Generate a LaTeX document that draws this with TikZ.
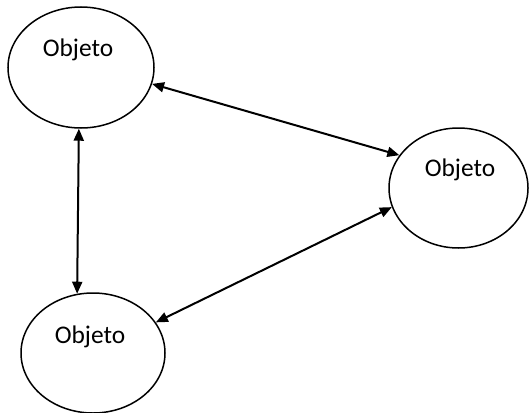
\documentclass[tikz,border=0pt]{standalone}
\usepackage{fontspec}
\setmainfont{Carlito}
\usetikzlibrary{shapes.geometric,arrows.meta}
\begin{document}
\begin{tikzpicture}[x=0.5pt,y=-0.5pt,
  obj/.style={draw,ellipse,line width=0.75pt,inner sep=0pt},
  lbl/.style={font=\fontsize{12.7}{15}\selectfont,inner sep=0pt},
  link/.style={line width=1pt,{Triangle[length=6pt,width=5pt]}-{Triangle[length=6pt,width=5pt]}}]
\useasboundingbox (0,0) rectangle (529,412);
\clip (0,0) rectangle (529,412);
\node[obj,minimum width=73pt,minimum height=60.5pt] (e1) at (81,67.5) {};
\node[obj,minimum width=69.5pt,minimum height=60pt] (e2) at (458.5,188) {};
\node[obj,minimum width=72pt,minimum height=60pt] (e3) at (93,353) {};
\node[lbl] (t1) at (78,50) {Objeto};
\node[lbl] (t2) at (460,170) {Objeto};
\node[lbl] (t3) at (90,337) {Objeto};
\draw[link] (e1.-13.5) -- (e2.151);
\draw[link] (e1.-92.5) -- (e3.105.3);
\draw[link] (e3.26.6) -- (e2.-164);
\end{tikzpicture}
\end{document}
